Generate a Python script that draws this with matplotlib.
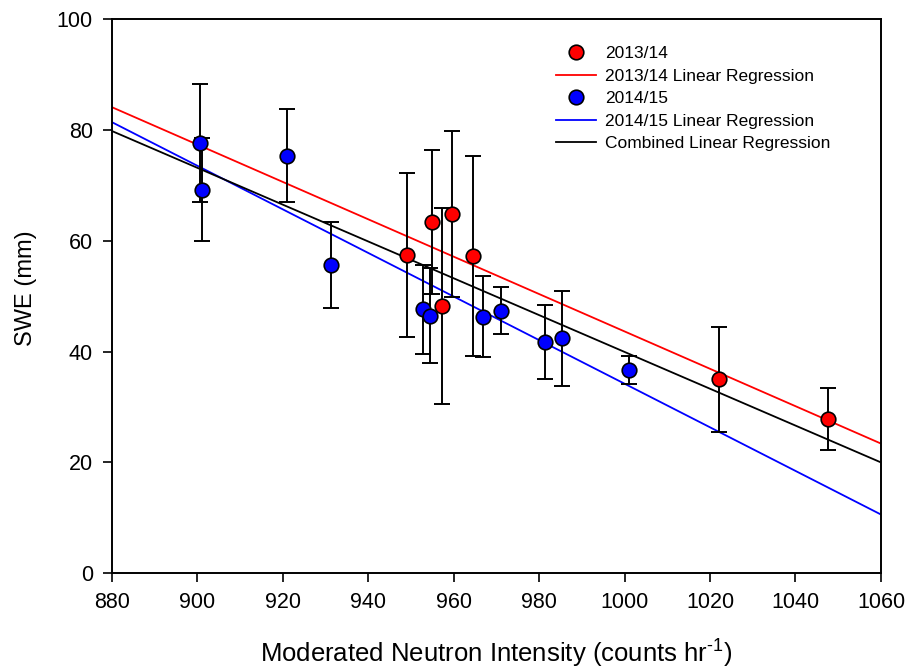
import numpy as np
import matplotlib
matplotlib.use('Agg')
from matplotlib import pyplot as plt

plt.rcParams['font.family'] = ['Liberation Sans', 'DejaVu Sans']

# 2013/14 season
x_1314 = [949.2, 955.0, 957.3, 959.7, 964.6, 1022.1, 1047.6]
swe_1314 = [57.5, 63.3, 48.2, 64.8, 57.2, 35.0, 27.9]
err_1314 = [14.8, 13.0, 17.7, 15.0, 18.0, 9.5, 5.6]

# 2014/15 season
x_1415 = [900.7, 901.1, 920.9, 931.2, 952.8, 954.5, 966.9, 971.0, 981.3, 985.3, 1001.1]
swe_1415 = [77.6, 69.2, 75.3, 55.6, 47.6, 46.5, 46.3, 47.4, 41.7, 42.4, 36.7]
err_1415 = [10.7, 9.3, 8.4, 7.7, 8.0, 8.6, 7.3, 4.2, 6.7, 8.6, 2.5]

# regression lines, read at the two ends of the x range
reg_x = [880, 1060]
reg_1314 = [84.1, 23.4]
reg_1415 = [81.4, 10.6]
reg_all = [79.8, 20.0]

fig = plt.figure(figsize=(9.07, 6.68), dpi=100, facecolor='white')
ax = fig.add_axes([0.1232, 0.1418, 0.9713 - 0.1232, 0.9716 - 0.1418])

ax.plot(reg_x, reg_1314, color='red', lw=1.3, zorder=2)
ax.plot(reg_x, reg_1415, color='blue', lw=1.3, zorder=2)
ax.plot(reg_x, reg_all, color='black', lw=1.3, zorder=2)

ax.errorbar(x_1314, swe_1314, yerr=err_1314, fmt='none', ecolor='black',
            elinewidth=1.4, capsize=5.8, capthick=1.4, zorder=3)
ax.errorbar(x_1415, swe_1415, yerr=err_1415, fmt='none', ecolor='black',
            elinewidth=1.4, capsize=5.8, capthick=1.4, zorder=3)
ax.plot(x_1314, swe_1314, 'o', color='red', mec='black', mew=1.2, ms=10.5, zorder=4)
ax.plot(x_1415, swe_1415, 'o', color='blue', mec='black', mew=1.2, ms=10.5, zorder=4)

# legend handles in the reference's order
h1, = ax.plot([], [], 'o', color='red', mec='black', mew=1.2, ms=10.5)
h2, = ax.plot([], [], color='red', lw=1.3)
h3, = ax.plot([], [], 'o', color='blue', mec='black', mew=1.2, ms=10.5)
h4, = ax.plot([], [], color='blue', lw=1.3)
h5, = ax.plot([], [], color='black', lw=1.3)
ax.legend([h1, h2, h3, h4, h5],
          ['2013/14', '2013/14 Linear Regression', '2014/15',
           '2014/15 Linear Regression', 'Combined Linear Regression'],
          loc='upper left', bbox_to_anchor=(0.613, 0.931),
          bbox_transform=fig.transFigure, frameon=False, fontsize=12.5,
          handlelength=2.3, handletextpad=0.52, labelspacing=0.42,
          borderaxespad=0, borderpad=0)

ax.set_xlim(880, 1060)
ax.set_ylim(0, 100)
ax.set_xticks(np.arange(880, 1061, 20))
ax.set_yticks(np.arange(0, 101, 20))
ax.tick_params(direction='out', length=6.5, width=1.2, labelsize=15.5,
               top=False, right=False, pad=7)
for s in ax.spines.values():
    s.set_linewidth(1.4)

ax.set_xlabel('Moderated Neutron Intensity (counts hr$^{\\mathregular{\u20101}}$)',
              fontsize=18.5)
ax.xaxis.set_label_coords(0.5, -0.1595)
ax.xaxis.label.set_verticalalignment('baseline')
ax.set_ylabel('SWE (mm)', fontsize=17)
ax.yaxis.set_label_coords(-0.112, 0.515)
ax.yaxis.label.set_verticalalignment('center')

fig.savefig('out.png', dpi=100)
